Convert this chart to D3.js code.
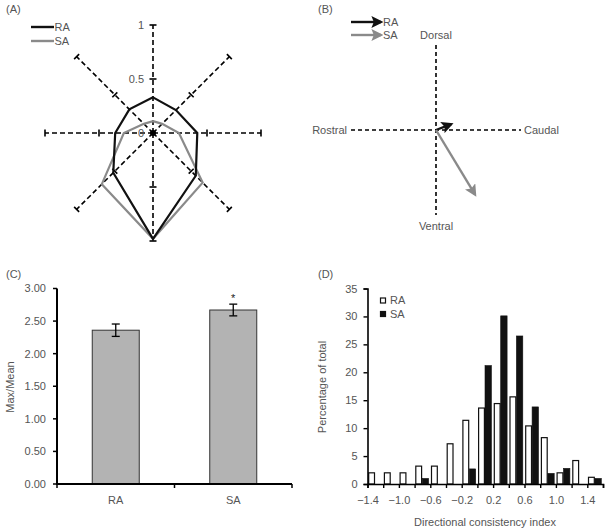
<!DOCTYPE html>
<html><head><meta charset="utf-8">
<script src="https://cdn.jsdelivr.net/npm/d3@7"></script>
<style>
body{margin:0;background:#fff;}
svg{display:block;font-family:"Liberation Sans",Arial,sans-serif;}
text{fill:#555;font-size:11px;}
</style></head><body>
<svg id="c" width="609" height="531"></svg>
<script>
// ---------- DATA ----------
// Panel A (radar): directions clockwise from top
const radarAxes = ["up","up-right","right","down-right","down","down-left","left","up-left"];
const radarRA = [0.33, 0.30, 0.41, 0.56, 0.98, 0.52, 0.35, 0.31];
const radarSA = [0.11, 0.12, 0.24, 0.65, 0.98, 0.67, 0.27, 0.12];
const radarTicks = [0, 0.5, 1];
// Panel B (mean vectors, x: rostral->caudal, y: ventral->dorsal)
const vecNames = ["RA","SA"];
const vecX = [0.18, 0.46];
const vecY = [0.07, -0.76];
const dirLabels = ["Dorsal","Ventral","Rostral","Caudal"];
// Panel C (Max/Mean)
const cCats = ["RA","SA"];
const cMeans = [2.36, 2.67];
const cErr = [0.095, 0.09];
const cTicks = [0, 0.5, 1, 1.5, 2, 2.5, 3];
// Panel D (histogram of directional consistency index)
const binStarts = [-1.4,-1.2,-1.0,-0.8,-0.6,-0.4,-0.2,0,0.2,0.4,0.6,0.8,1.0,1.2,1.4];
const histRA = [2.0, 2.0, 2.0, 3.2, 3.2, 7.2, 11.4, 13.6, 14.4, 15.6, 10.4, 8.3, 2.0, 4.2, 1.2];
const histSA = [0, 0, 0, 1.0, 0, 0, 2.7, 21.2, 30.1, 26.5, 13.8, 1.9, 2.8, 0, 1.0];
const dTicks = [-1.4,-1.2,-1.0,-0.8,-0.6,-0.4,-0.2,0,0.2,0.4,0.6,0.8,1.0,1.2,1.4,1.6];
const dLabels = [-1.4,-1.0,-0.6,-0.2,0.2,0.6,1.0,1.4];
const dYTicks = [0,5,10,15,20,25,30,35];

const svg = d3.select("#c");
const GRAY = "#8a8a8a";

// ---------- PANEL A ----------
(function(){
  const cx = 153, cy = 133, R = 108;
  const g = svg.append("g").attr("transform", `translate(${cx},${cy})`);
  const r = d3.scaleLinear().domain([0,1]).range([0,R]);
  const ang = d3.scalePoint().domain(radarAxes).range([0, 2*Math.PI*7/8]);
  radarAxes.forEach(a => {
    const t = ang(a);
    const ux = Math.sin(t), uy = -Math.cos(t);
    g.append("line").attr("x1",0).attr("y1",0).attr("x2",ux*r(1)).attr("y2",uy*r(1))
      .attr("stroke","#000").attr("stroke-width",1.6).attr("stroke-dasharray","5,3");
    [0.5,1].forEach(v => {
      const px = ux*r(v), py = uy*r(v), L = 3.5;
      g.append("line").attr("x1",px - uy*L).attr("y1",py + ux*L).attr("x2",px + uy*L).attr("y2",py - ux*L)
        .attr("stroke","#000").attr("stroke-width",1.6);
    });
  });
  g.append("circle").attr("r",3).attr("fill","#000");
  radarTicks.forEach(v => {
    g.append("text").attr("x",-9).attr("y",-r(v)).attr("dy","0.35em").attr("text-anchor","end")
      .style("fill","#555").text(v===0?"0":v===1?"1":String(v));
  });
  const line = d3.lineRadial().angle((d,i)=>ang(radarAxes[i])).radius(d=>r(d)).curve(d3.curveLinearClosed);
  g.append("path").attr("d",line(radarSA)).attr("fill","none").attr("stroke",GRAY).attr("stroke-width",2.2);
  g.append("path").attr("d",line(radarRA)).attr("fill","none").attr("stroke","#111").attr("stroke-width",2.2);
  // legend
  [["RA","#111",27],["SA",GRAY,41]].forEach(([n,c,y])=>{
    svg.append("line").attr("x1",31).attr("x2",54).attr("y1",y).attr("y2",y).attr("stroke",c).attr("stroke-width",2.4);
    svg.append("text").attr("x",54.5).attr("y",y).attr("dy","0.36em").text(n);
  });
  svg.append("text").attr("x",6).attr("y",13).text("(A)");
})();

// ---------- PANEL B ----------
(function(){
  const x = d3.scaleLinear().domain([-1,1]).range([351,521]);
  const y = d3.scaleLinear().domain([-1,1]).range([215,45]);
  const defs = svg.append("defs");
  [["hk","#111"],["hg",GRAY]].forEach(([id,c])=>{
    defs.append("marker").attr("id",id).attr("viewBox","0 0 10 10").attr("refX",8).attr("refY",5)
      .attr("markerWidth",5).attr("markerHeight",5).attr("orient","auto")
      .append("path").attr("d","M0,0L10,5L0,10L2,5Z").attr("fill",c);
  });
  svg.append("line").attr("x1",x(0)).attr("x2",x(0)).attr("y1",y(1)).attr("y2",y(-1))
    .attr("stroke","#000").attr("stroke-width",1.6).attr("stroke-dasharray","4,3");
  svg.append("line").attr("x1",x(-1)).attr("x2",x(1)).attr("y1",y(0)).attr("y2",y(0))
    .attr("stroke","#000").attr("stroke-width",1.6).attr("stroke-dasharray","4,3");
  svg.append("text").attr("x",x(0)).attr("y",y(1)-6).attr("text-anchor","middle").text(dirLabels[0]);
  svg.append("text").attr("x",x(0)).attr("y",y(-1)+15).attr("text-anchor","middle").text(dirLabels[1]);
  svg.append("text").attr("x",x(-1)-4).attr("y",y(0)).attr("dy","0.35em").attr("text-anchor","end").text(dirLabels[2]);
  svg.append("text").attr("x",x(1)+3).attr("y",y(0)).attr("dy","0.35em").text(dirLabels[3]);
  vecNames.forEach((n,i)=>{
    svg.append("line").attr("x1",x(0)).attr("y1",y(0)).attr("x2",x(vecX[i])).attr("y2",y(vecY[i]))
      .attr("stroke",i?GRAY:"#111").attr("stroke-width",2.4).attr("marker-end",`url(#${i?"hg":"hk"})`);
  });
  [["RA","#111","hk",22],["SA",GRAY,"hg",35]].forEach(([n,c,m,yy])=>{
    svg.append("line").attr("x1",351).attr("x2",381).attr("y1",yy).attr("y2",yy)
      .attr("stroke",c).attr("stroke-width",2.4).attr("marker-end",`url(#${m})`);
    svg.append("text").attr("x",383).attr("y",yy).attr("dy","0.36em").text(n);
  });
  svg.append("text").attr("x",318).attr("y",13).text("(B)");
})();

// ---------- PANEL C ----------
(function(){
  const x = d3.scaleBand().domain(cCats).range([57,292]);
  const y = d3.scaleLinear().domain([0,3]).range([484,288.5]);
  const bw = 47;
  const g = svg.append("g");
  g.selectAll("rect.bar").data(cCats).join("rect")
    .attr("x",d=>x(d)+x.bandwidth()/2-bw/2).attr("width",bw)
    .attr("y",(d,i)=>y(cMeans[i])).attr("height",(d,i)=>y(0)-y(cMeans[i]))
    .attr("fill","#b3b3b3").attr("stroke","#333").attr("stroke-width",1);
  cCats.forEach((c,i)=>{
    const cx = x(c)+x.bandwidth()/2;
    const y1 = y(cMeans[i]+cErr[i]), y2 = y(cMeans[i]-cErr[i]);
    g.append("line").attr("x1",cx).attr("x2",cx).attr("y1",y1).attr("y2",y2).attr("stroke","#000").attr("stroke-width",1.3);
    [y1,y2].forEach(yy=>g.append("line").attr("x1",cx-4).attr("x2",cx+4).attr("y1",yy).attr("y2",yy).attr("stroke","#000").attr("stroke-width",1.3));
  });
  g.append("text").attr("x",x("SA")+x.bandwidth()/2).attr("y",y(cMeans[1]+cErr[1])-2).attr("text-anchor","middle").style("fill","#222").text("*");
  // y axis
  g.append("line").attr("x1",57).attr("x2",57).attr("y1",y(3)).attr("y2",y(0)).attr("stroke","#000").attr("stroke-width",2);
  cTicks.forEach(t=>{
    g.append("line").attr("x1",53).attr("x2",57).attr("y1",y(t)).attr("y2",y(t)).attr("stroke","#000").attr("stroke-width",1.5);
    g.append("text").attr("x",46).attr("y",y(t)).attr("dy","0.35em").attr("text-anchor","end").text(d3.format(".2f")(t));
  });
  // x axis
  g.append("line").attr("x1",56).attr("x2",292).attr("y1",y(0)).attr("y2",y(0)).attr("stroke","#000").attr("stroke-width",2);
  [57, x("SA"), 292].forEach(px=>g.append("line").attr("x1",px).attr("x2",px).attr("y1",y(0)).attr("y2",y(0)+4).attr("stroke","#000").attr("stroke-width",1.5));
  cCats.forEach(c=>g.append("text").attr("x",x(c)+x.bandwidth()/2).attr("y",504).attr("text-anchor","middle").text(c));
  g.append("text").attr("transform","translate(14,387) rotate(-90)").attr("text-anchor","middle").text("Max/Mean");
  svg.append("text").attr("x",6).attr("y",278).text("(C)");
})();

// ---------- PANEL D ----------
(function(){
  const x = d3.scaleLinear().domain([-1.4,1.6]).range([367.5,603]);
  const y = d3.scaleLinear().domain([0,35]).range([484,288.5]);
  const g = svg.append("g");
  const bw = 5.8;
  binStarts.forEach((b,i)=>{
    const x0 = x(b);
    if (histRA[i]>0) g.append("rect").attr("x",x0+1.2).attr("width",bw).attr("y",y(histRA[i])).attr("height",y(0)-y(histRA[i]))
      .attr("fill","#fff").attr("stroke","#111").attr("stroke-width",1.2);
    if (histSA[i]>0) g.append("rect").attr("x",x0+7.6).attr("width",bw+0.6).attr("y",y(histSA[i])).attr("height",y(0)-y(histSA[i]))
      .attr("fill","#111").attr("stroke","#111").attr("stroke-width",0.6);
  });
  const xAxis = d3.axisBottom(x).tickValues(dTicks).tickSize(4)
    .tickFormat(d => dLabels.some(l=>Math.abs(l-d)<1e-9) ? d3.format(".1f")(d) : "");
  const ax = g.append("g").attr("transform",`translate(0,${y(0)})`).call(xAxis);
  ax.select(".domain").attr("stroke","#000").attr("stroke-width",1.6);
  ax.selectAll(".tick line").attr("stroke","#000").attr("stroke-width",1.4);
  ax.selectAll(".tick text").attr("dy","1.2em").style("font-size","11px").style("font-family","inherit").attr("fill","#555");
  const yAxis = d3.axisLeft(y).tickValues(dYTicks).tickSize(4).tickPadding(6);
  const ay = g.append("g").attr("transform",`translate(${x(-1.4)},0)`).call(yAxis);
  ay.select(".domain").attr("stroke","#000").attr("stroke-width",1.6);
  ay.selectAll(".tick line").attr("stroke","#000").attr("stroke-width",1.4);
  ay.selectAll(".tick text").style("font-size","11px").style("font-family","inherit").attr("fill","#555");
  g.append("text").attr("x",485).attr("y",526).attr("text-anchor","middle").text("Directional consistency index");
  g.append("text").attr("transform","translate(326,387) rotate(-90)").attr("text-anchor","middle").text("Percentage of total");
  // legend
  g.append("rect").attr("x",380.5).attr("y",298).attr("width",5).attr("height",5).attr("fill","#fff").attr("stroke","#111").attr("stroke-width",1.2);
  g.append("text").attr("x",390).attr("y",300.5).attr("dy","0.35em").text("RA");
  g.append("rect").attr("x",380.5).attr("y",311.5).attr("width",5).attr("height",5).attr("fill","#111").attr("stroke","#111").attr("stroke-width",1.2);
  g.append("text").attr("x",390).attr("y",314).attr("dy","0.35em").text("SA");
  svg.append("text").attr("x",318).attr("y",278).text("(D)");
})();
</script></body></html>
